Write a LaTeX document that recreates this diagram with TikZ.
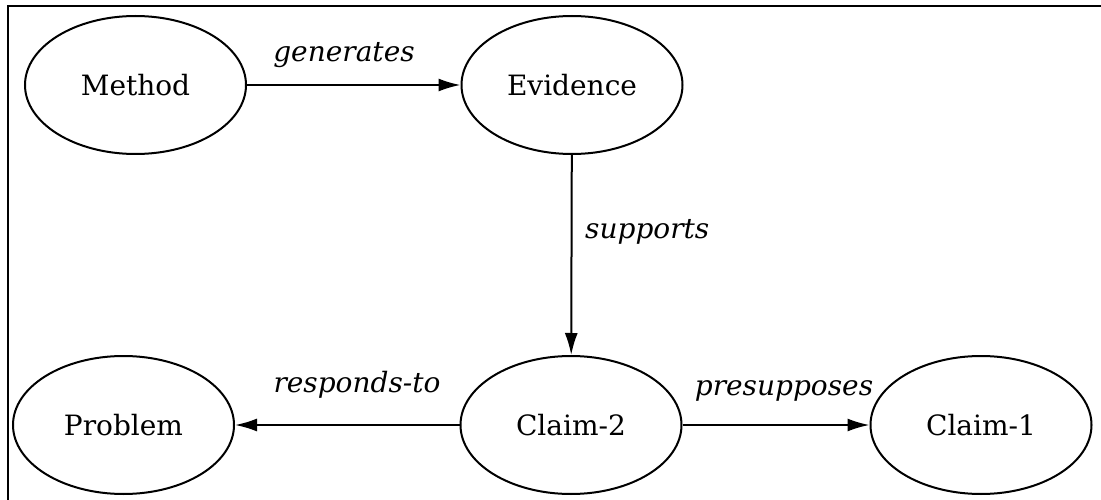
\documentclass[tikz,border=0pt]{standalone}
\usepackage{fontspec}
\setmainfont{DejaVu Serif}
\usetikzlibrary{shapes.geometric,arrows.meta}
\tikzset{
  concept/.style={draw, ellipse, line width=2pt, minimum width=221pt, minimum height=138pt, inner sep=0pt, font=\fontsize{28}{32}\selectfont},
  rel/.style={line width=2pt, -{Latex[length=22pt,width=13pt]}},
  lbl/.style={anchor=base, inner sep=0pt, font=\itshape\fontsize{28}{32}\selectfont},
  frame/.style={line width=2.2pt}
}
\begin{document}
\begin{tikzpicture}[x=1pt,y=-1pt]
\useasboundingbox (0,0) rectangle (1101,500);
\fill[white] (0,0) rectangle (1101,500);
\coordinate (ftl) at (8,6);
\coordinate (ftr) at (1101,6);
\coordinate (fbl) at (8,500);
\draw[frame] (ftr) -- (ftl) -- (fbl);

\node[concept] (method) at (135.5,85) {Method};
\node[concept] (evidence) at (572,85) {Evidence};
\node[concept] (problem) at (123.5,425) {Problem};
\node[concept] (claim2) at (571,425) {Claim-2};
\node[concept] (claim1) at (981,425) {Claim-1};

\draw[rel] (method) -- (evidence);
\draw[rel] (evidence) -- (claim2);
\draw[rel] (claim2) -- (problem);
\draw[rel] (claim2) -- (claim1);

\node[lbl] (lgen) at (344,62) {generates};
\node[lbl, anchor=base west] (lsup) at (585,238) {supports};
\node[lbl] (lresp) at (357,392) {responds-to};
\node[lbl] (lpre) at (784,395) {presupposes};
\end{tikzpicture}
\end{document}
